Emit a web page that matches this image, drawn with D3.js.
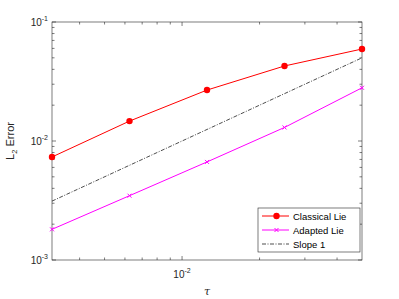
<!DOCTYPE html>
<html>
<head>
<meta charset="utf-8">
<script src="https://cdn.jsdelivr.net/npm/d3@7"></script>
<style>
  body { margin: 0; background: #fff; }
  svg { display: block; font-family: "Liberation Sans", Arial, sans-serif; }
</style>
</head>
<body>
<div class="chart"></div>
<script>
// step sizes (tau) and errors
var tau = [0.003125, 0.00625, 0.0125, 0.025, 0.05];
var classicalLie = [0.00734, 0.0147, 0.0268, 0.0427, 0.0593];
var adaptedLie = [0.00181, 0.00347, 0.00667, 0.0130, 0.0280];
var slopeOne = [0.003125, 0.00625, 0.0125, 0.025, 0.05];

var xTicks = [0.01];
var yTicks = [0.001, 0.01, 0.1];
var yTickExp = ["-3", "-2", "-1"];

var margin = { top: 22, right: 37, bottom: 39, left: 52 },
    width = 399 - margin.left - margin.right,
    height = 299 - margin.top - margin.bottom;

var svg = d3.select(".chart")
    .append("svg")
    .attr("width", 399)
    .attr("height", 299)
    .append("g")
    .attr("transform", "translate(" + margin.left + "," + margin.top + ")");

var x = d3.scaleLog()
    .domain([0.003125, 0.05])
    .range([0, width]);

var y = d3.scaleLog()
    .domain([0.001, 0.1])
    .range([height, 0]);

// minor ticks for log axes
function minors(lo, hi) {
    var out = [];
    for (var e = -4; e <= 0; e++) {
        for (var m = 2; m <= 9; m++) {
            var v = m * Math.pow(10, e);
            if (v > lo * 1.0001 && v < hi * 0.9999) out.push(v);
        }
    }
    return out;
}
var xMinor = minors(0.003125, 0.05);
var yMinor = minors(0.001, 0.1);

var axisColor = "#262626";
var ticks = svg.append("g").attr("stroke", axisColor).attr("stroke-width", 0.6);

// x ticks, bottom and top, pointing inward
xTicks.concat(xMinor).forEach(function (v) {
    var len = xTicks.indexOf(v) >= 0 ? 4 : 2.5;
    var px = x(v);
    ticks.append("line").attr("x1", px).attr("x2", px).attr("y1", height).attr("y2", height - len);
    ticks.append("line").attr("x1", px).attr("x2", px).attr("y1", 0).attr("y2", len);
});

// y ticks, left and right
yTicks.concat(yMinor).forEach(function (v) {
    var len = yTicks.indexOf(v) >= 0 ? 4 : 2.5;
    var py = y(v);
    ticks.append("line").attr("y1", py).attr("y2", py).attr("x1", 0).attr("x2", len);
    ticks.append("line").attr("y1", py).attr("y2", py).attr("x1", width).attr("x2", width - len);
});

// box
svg.append("rect")
    .attr("x", 0)
    .attr("y", 0)
    .attr("width", width)
    .attr("height", height)
    .attr("fill", "none")
    .attr("stroke", axisColor)
    .attr("stroke-width", 0.6);

// tick labels
yTicks.forEach(function (v, i) {
    var t = svg.append("text")
        .attr("x", -4)
        .attr("y", y(v) + 4)
        .attr("text-anchor", "end")
        .attr("fill", axisColor)
        .style("font-size", "10px");
    t.append("tspan").text("10");
    t.append("tspan").attr("dy", -5).style("font-size", "7px").text(yTickExp[i]);
});

xTicks.forEach(function (v) {
    var t = svg.append("text")
        .attr("x", x(v))
        .attr("y", height + 18)
        .attr("text-anchor", "middle")
        .attr("fill", axisColor)
        .style("font-size", "10px");
    t.append("tspan").text("10");
    t.append("tspan").attr("dy", -5).style("font-size", "7px").text("-2");
});

// axis labels
svg.append("text")
    .attr("x", x(0.0125))
    .attr("y", height + 35)
    .attr("text-anchor", "middle")
    .attr("fill", axisColor)
    .style("font-size", "11px")
    .style("font-family", "'DejaVu Serif', serif")
    .style("font-style", "italic")
    .text("\u03c4");

var yl = svg.append("text")
    .attr("transform", "translate(" + (-38) + "," + (height / 2) + ") rotate(-90)")
    .attr("text-anchor", "middle")
    .attr("fill", axisColor)
    .style("font-size", "11px");
yl.append("tspan").text("L");
yl.append("tspan").attr("dy", 3).style("font-size", "7.5px").text("2");
yl.append("tspan").attr("dy", -3).text(" Error");

var line = d3.line()
    .x(function (d) { return x(d[0]); })
    .y(function (d) { return y(d[1]); });

var series = [
    { name: "Classical Lie", vals: classicalLie, color: "#ff0000", marker: "dot", dash: null },
    { name: "Adapted Lie", vals: adaptedLie, color: "#ff00ff", marker: "x", dash: null },
    { name: "Slope 1", vals: slopeOne, color: "#000000", marker: null, dash: "4,1.5,1,1.5" }
];

function drawMarker(g, kind, cx, cy, color) {
    if (kind === "dot") {
        g.append("circle").attr("cx", cx).attr("cy", cy).attr("r", 3.2).attr("fill", color);
    } else if (kind === "x") {
        var s = 2;
        g.append("path")
            .attr("d", "M" + (cx - s) + "," + (cy - s) + "L" + (cx + s) + "," + (cy + s) +
                "M" + (cx - s) + "," + (cy + s) + "L" + (cx + s) + "," + (cy - s))
            .attr("stroke", color)
            .attr("stroke-width", 1);
    }
}

series.forEach(function (s) {
    var pts = tau.map(function (t, i) { return [t, s.vals[i]]; });
    svg.append("path")
        .datum(pts)
        .attr("d", line)
        .attr("fill", "none")
        .attr("stroke", s.color)
        .attr("stroke-width", s.dash ? 0.7 : 1)
        .attr("stroke-dasharray", s.dash);
    if (s.marker) {
        var g = svg.append("g");
        pts.forEach(function (p) { drawMarker(g, s.marker, x(p[0]), y(p[1]), s.color); });
    }
});

// legend
var lg = svg.append("g").attr("transform", "translate(" + (258 - margin.left) + "," + (208 - margin.top) + ")");
lg.append("rect")
    .attr("width", 102)
    .attr("height", 44)
    .attr("fill", "#fff")
    .attr("stroke", axisColor)
    .attr("stroke-width", 0.6);

series.forEach(function (s, i) {
    var ly = 8 + i * 14;
    lg.append("line")
        .attr("x1", 4).attr("x2", 31)
        .attr("y1", ly).attr("y2", ly)
        .attr("stroke", s.color)
        .attr("stroke-width", s.dash ? 0.7 : 1)
        .attr("stroke-dasharray", s.dash);
    if (s.marker) drawMarker(lg, s.marker, 18.5, ly, s.color);
    lg.append("text")
        .attr("x", 35)
        .attr("y", ly + 3.5)
        .attr("fill", "#000")
        .style("font-size", "9.5px")
        .text(s.name);
});
</script>
</body>
</html>
